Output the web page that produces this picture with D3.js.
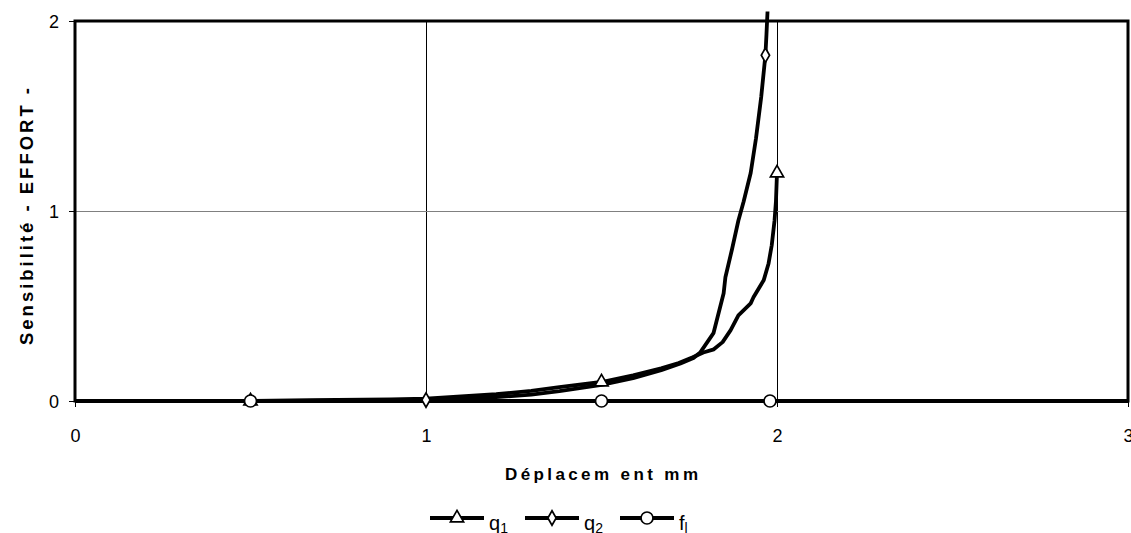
<!DOCTYPE html>
<html><head><meta charset="utf-8">
<script src="https://cdn.jsdelivr.net/npm/d3@7"></script>
<style>body{margin:0;background:#fff}svg{display:block}text{font-family:"Liberation Sans",Arial,sans-serif}</style>
</head><body>
<script>
// ---- data ----
const xTicks = [0, 1, 2, 3];
const yTicks = [0, 1, 2];
const seriesNames = ["q1", "q2", "fl"];
const q1X = [0.5, 0.67, 0.9, 1.0, 1.1, 1.2, 1.3, 1.38, 1.5, 1.59, 1.67, 1.72, 1.76, 1.79, 1.82, 1.845, 1.868, 1.89, 1.925, 1.933, 1.962, 1.976, 1.985, 1.993, 1.997, 2.0];
const q1Y = [0, 0.004, 0.008, 0.013, 0.024, 0.036, 0.053, 0.073, 0.1, 0.135, 0.172, 0.2, 0.23, 0.255, 0.272, 0.31, 0.373, 0.451, 0.514, 0.546, 0.635, 0.724, 0.82, 0.95, 1.05, 1.2];
const q2X = [0.67, 1.0, 1.1, 1.2, 1.3, 1.38, 1.5, 1.59, 1.67, 1.725, 1.762, 1.782, 1.819, 1.848, 1.853, 1.872, 1.89, 1.905, 1.925, 1.94, 1.955, 1.967, 1.97, 1.973];
const q2Y = [0.0, 0.005, 0.011, 0.02, 0.034, 0.052, 0.085, 0.12, 0.162, 0.198, 0.226, 0.257, 0.357, 0.567, 0.651, 0.8, 0.95, 1.05, 1.2, 1.38, 1.6, 1.82, 1.93, 2.05];
const flX = [0, 0.5, 1.5, 1.98, 3];
const flY = [0, 0, 0, 0, 0];
const q1MarkX = [0.5, 1.5, 2.0], q1MarkY = [0, 0.1, 1.2];
const q2MarkX = [1.0, 1.967], q2MarkY = [0.005, 1.82];
const flMarkX = [0.5, 1.5, 1.98], flMarkY = [0, 0, 0];

// ---- layout ----
const W = 1131, H = 533;
const L = 75, R = 1128, T = 21, B = 401;
const svg = d3.select("body").append("svg").attr("width", W).attr("height", H);
const x = d3.scaleLinear().domain([0, 3]).range([L, R]);
const y = d3.scaleLinear().domain([0, 2]).range([B, T]);

// gridlines
svg.append("g").selectAll("line").data([1, 2]).join("line")
  .attr("x1", d => x(d)).attr("x2", d => x(d)).attr("y1", T).attr("y2", B)
  .attr("stroke", "#000").attr("stroke-width", 1).attr("shape-rendering", "crispEdges");
svg.append("g").selectAll("line").data([1]).join("line")
  .attr("x1", L).attr("x2", R).attr("y1", d => y(d)).attr("y2", d => y(d))
  .attr("stroke", "#808080").attr("stroke-width", 1).attr("shape-rendering", "crispEdges");

// axes
const xa = svg.append("g").attr("transform", `translate(0,${B})`)
  .call(d3.axisBottom(x).tickValues(xTicks).tickFormat(d3.format("d")).tickSize(6).tickPadding(22));
const ya = svg.append("g").attr("transform", `translate(${L},0)`)
  .call(d3.axisLeft(y).tickValues(yTicks).tickFormat(d3.format("d")).tickSize(6).tickPadding(10));
[xa, ya].forEach(a => {
  a.select(".domain").remove();
  a.selectAll("text").attr("font-size", 18).attr("fill", "#000").style("font-family", '"Liberation Sans",Arial,sans-serif');
  a.selectAll("line").attr("stroke", "#000");
});
ya.selectAll("text").attr("dy", "0.35em");

// frame
svg.append("rect").attr("x", L).attr("y", T).attr("width", R - L).attr("height", B - T)
  .attr("fill", "none").attr("stroke", "#000").attr("stroke-width", 3);

// lines
const SW = 3.8;
const line = d3.line().x(d => x(d[0])).y(d => y(d[1]));
const zip = (a, b) => a.map((v, i) => [v, b[i]]);
[[q1X, q1Y], [q2X, q2Y], [flX, flY]].forEach(([xs, ys]) => {
  svg.append("path").datum(zip(xs, ys)).attr("d", line)
    .attr("fill", "none").attr("stroke", "#000").attr("stroke-width", SW).attr("stroke-linejoin", "round");
});

// markers
const tri = d3.symbol().type(d3.symbolTriangle).size(75);
const dia = d3.symbol().type(d3.symbolDiamond).size(60);
function drawMarkers(xs, ys, kind) {
  const g = svg.append("g");
  zip(xs, ys).forEach(d => {
    if (kind === "circle") {
      g.append("circle").attr("cx", x(d[0])).attr("cy", y(d[1])).attr("r", 6)
        .attr("fill", "#fff").attr("stroke", "#000").attr("stroke-width", 1.7);
    } else {
      g.append("path").attr("d", kind === "tri" ? tri() : dia())
        .attr("transform", `translate(${x(d[0])},${y(d[1])})`)
        .attr("fill", "#fff").attr("stroke", "#000").attr("stroke-width", 1.7);
    }
  });
}
drawMarkers(q1MarkX, q1MarkY, "tri");
drawMarkers(q2MarkX, q2MarkY, "dia");
drawMarkers(flMarkX, flMarkY, "circle");

// titles
svg.append("text").attr("x", 505).attr("y", 480)
  .attr("font-size", 17).attr("font-weight", "bold")
  .attr("textLength", 193).attr("lengthAdjust", "spacing")
  .text("Déplacem ent  mm");
svg.append("text").attr("transform", "translate(33,345) rotate(-90)")
  .attr("font-size", 18.5).attr("font-weight", "bold")
  .attr("textLength", 257).attr("lengthAdjust", "spacing")
  .text("Sensibilité  - EFFORT -");

// legend
const legend = [
  {name: "q", sub: "1", kind: "tri", x0: 430},
  {name: "q", sub: "2", kind: "dia", x0: 525},
  {name: "f", sub: "l", kind: "circle", x0: 620}
];
const ly = 518;
legend.forEach((l, i) => {
  const g = svg.append("g");
  g.append("line").attr("x1", l.x0).attr("x2", l.x0 + 54).attr("y1", ly).attr("y2", ly)
    .attr("stroke", "#000").attr("stroke-width", SW);
  if (l.kind === "circle") {
    g.append("circle").attr("cx", l.x0 + 27).attr("cy", ly).attr("r", 6)
      .attr("fill", "#fff").attr("stroke", "#000").attr("stroke-width", 1.7);
  } else {
    g.append("path").attr("d", l.kind === "tri" ? tri() : dia())
      .attr("transform", `translate(${l.x0 + 27},${ly})`)
      .attr("fill", "#fff").attr("stroke", "#000").attr("stroke-width", 1.7);
  }
  const t = g.append("text").attr("x", l.x0 + 59).attr("y", 530).attr("font-size", 20).text(l.name);
  t.append("tspan").attr("font-size", 14).attr("dy", 3).text(l.sub);
  g.attr("data-series", seriesNames[i]);
});
</script>
</body></html>
